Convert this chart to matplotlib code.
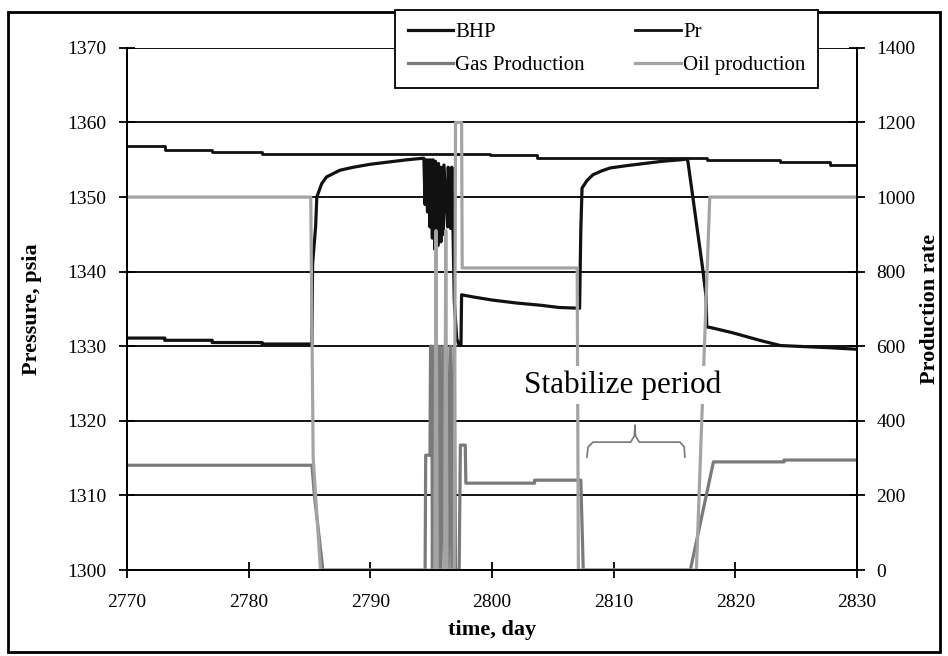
import matplotlib.pyplot as plt
from matplotlib.patches import Rectangle

plt.rcParams['font.family'] = ['Liberation Serif', 'DejaVu Serif']

# BHP (pressure, psia)
bhp_t = [2770, 2773.1, 2773.1, 2777, 2777, 2781.1, 2781.1, 2785.2, 2785.25, 2785.5, 2785.6,
         2786.0, 2786.4, 2787.5, 2788.6, 2790, 2791.5, 2793, 2794.3,
         2794.4, 2794.5, 2794.55, 2794.7, 2794.75, 2794.9, 2794.95, 2795.1, 2795.15, 2795.3,
         2795.35, 2795.55, 2795.6, 2795.8, 2795.85, 2796.0, 2796.05, 2796.35, 2796.4, 2796.6,
         2796.7, 2796.8, 2796.9, 2797.1, 2797.3, 2797.45, 2797.5, 2798.5, 2800, 2802, 2804,
         2805.5, 2807.2, 2807.25, 2807.3, 2807.4, 2807.8, 2808.3, 2809, 2809.7, 2811, 2812.5,
         2814, 2815.5, 2816.0, 2816.1, 2817.3, 2817.6, 2817.65, 2818.0, 2819.8, 2822, 2823.7,
         2827.8, 2830]
bhp_p = [1331.1, 1331.1, 1330.8, 1330.8, 1330.5, 1330.5, 1330.3, 1330.3, 1341, 1346, 1350,
         1351.8, 1352.7, 1353.6, 1354.0, 1354.4, 1354.7, 1355.0, 1355.2,
         1355.2, 1349, 1355, 1348, 1355, 1346, 1355, 1344.5, 1355, 1343,
         1354.8, 1343.5, 1354.5, 1344, 1354, 1345, 1354.3, 1346, 1354, 1345.8,
         1354, 1345, 1336, 1331, 1330.2, 1330.2, 1336.9, 1336.6, 1336.2, 1335.8, 1335.5,
         1335.2, 1335.1, 1340.6, 1345.6, 1351.2, 1352.2, 1353.0, 1353.5, 1353.9, 1354.2, 1354.5,
         1354.8, 1355.0, 1355.1, 1354.8, 1340.6, 1336.6, 1332.6, 1332.5, 1331.8, 1330.8, 1330.1,
         1329.8, 1329.6]

# Pr (pressure, psia)
pr_t = [2770, 2773.1, 2773.1, 2777, 2777, 2781.1, 2781.1, 2799.8, 2799.8, 2803.7, 2803.7,
        2817.7, 2817.7, 2823.7, 2823.7, 2827.8, 2827.8, 2830]
pr_p = [1356.8, 1356.8, 1356.3, 1356.3, 1356.1, 1356.1, 1355.8, 1355.8, 1355.6, 1355.6, 1355.3,
        1355.3, 1355.0, 1355.0, 1354.7, 1354.7, 1354.3, 1354.3]

# Gas production (rate)
gas_t = [2770, 2785.2, 2785.4, 2786.1, 2794.5, 2794.55, 2794.9, 2794.95, 2795.05, 2795.1,
         2795.2, 2795.3, 2795.45, 2795.55, 2795.7, 2795.8, 2796.0, 2796.1, 2796.3, 2796.4,
         2796.6, 2796.7, 2796.9, 2797.0, 2797.3, 2797.4, 2797.8, 2797.85, 2803.5, 2803.5,
         2807.3, 2807.5, 2816.3, 2818.2, 2824, 2824, 2830]
gas_q = [281, 281, 200, 0, 0, 308, 308, 600, 600, 0,
         600, 0, 600, 0, 600, 0, 600, 0, 600, 0,
         600, 0, 600, 0, 0, 335, 335, 233, 233, 241,
         241, 0, 0, 290, 290, 295, 295]

# Oil production (rate)
oil_t = [2770, 2785.1, 2785.3, 2785.9, 2795.3, 2795.4, 2795.5, 2796.1, 2796.2, 2796.3,
         2796.9, 2797.0, 2797.5, 2797.55, 2807.0, 2807.1, 2816.8, 2817.9, 2830]
oil_q = [1000, 1000, 300, 0, 0, 910, 0, 0, 910, 0,
         0, 1200, 1200, 810, 810, 0, 0, 1000, 1000]

# brace under the note
brace_t = [2807.8, 2807.9, 2808.3, 2811.4, 2811.7, 2811.75, 2811.8, 2812.1, 2815.45, 2815.8, 2815.85]
brace_q = [303, 330, 343, 343, 360, 389, 360, 343, 343, 330, 303]

fig = plt.figure(figsize=(9.48, 6.56), dpi=100)
ax1 = fig.add_axes([0.134, 0.131, 0.770, 0.796])
ax2 = ax1.twinx()

ax1.set_xlim(2770, 2830)
ax1.set_ylim(1300, 1370)
ax2.set_ylim(0, 1400)
ax1.set_yticks(range(1300, 1371, 10))
ax2.set_yticks(range(0, 1401, 200))
ax1.set_xticks(range(2770, 2831, 10))
ax1.grid(axis='y', color='black', lw=1.3)
ax1.set_axisbelow(True)

l_bhp, = ax1.plot(bhp_t, bhp_p, color='#111111', lw=2.3, label='BHP')
l_pr, = ax1.plot(pr_t, pr_p, color='#111111', lw=2.0, label='Pr')
l_gas, = ax2.plot(gas_t, gas_q, color='#7a7a7a', lw=2.3, label='Gas Production')
l_oil, = ax2.plot(oil_t, oil_q, color='#a4a4a4', lw=2.3, label='Oil production')
ax2.plot(brace_t, brace_q, color='#777777', lw=1.2)

ax2.text(2810.7, 496, 'Stabilize period', fontsize=22.5, ha='center', va='center',
         bbox=dict(facecolor='white', edgecolor='none', pad=3))

for a in (ax1, ax2):
    for s in a.spines.values():
        s.set_color('black')
        s.set_linewidth(1.3)
    a.tick_params(direction='inout', length=12, width=1.3, labelsize=14, colors='black')
ax1.tick_params(axis='y', pad=9)
ax1.tick_params(axis='x', pad=11)
ax2.tick_params(axis='y', pad=8)
ax1.spines['top'].set_visible(False)
ax2.spines['top'].set_visible(False)

ax1.set_xlabel('time, day', fontsize=16, fontweight='bold', labelpad=7)
ax1.set_ylabel('Pressure, psia', fontsize=16, fontweight='bold', labelpad=18)
ax2.set_ylabel('Production rate', fontsize=16, fontweight='bold', labelpad=3)

leg = fig.legend([l_bhp, l_gas, l_pr, l_oil], ['BHP', 'Gas Production', 'Pr', 'Oil production'],
                 ncol=2, loc='upper left', bbox_to_anchor=(395 / 948, 1 - 10 / 656),
                 borderaxespad=0, fontsize=15, frameon=True, fancybox=False, framealpha=1,
                 edgecolor='black', handlelength=2.2, handletextpad=0.1,
                 columnspacing=2.4, borderpad=0.6, labelspacing=0.65)
leg.get_frame().set_linewidth(1.3)

fig.patches.append(Rectangle((8 / 948, 1 - 652 / 656), 932 / 948, 640 / 656,
                             transform=fig.transFigure, fill=False, edgecolor='black', lw=2))

plt.savefig('out.png', dpi=100)
